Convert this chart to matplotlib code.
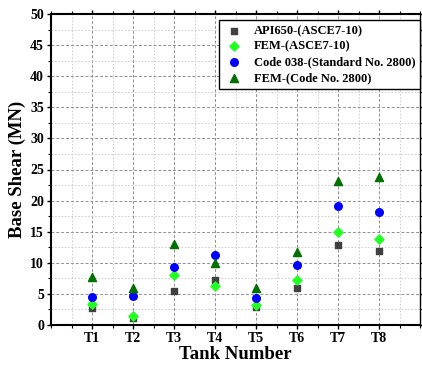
import matplotlib.pyplot as plt
from matplotlib.ticker import MultipleLocator

tanks = ["T1", "T2", "T3", "T4", "T5", "T6", "T7", "T8"]
api650 = [2.7, 1.1, 5.4, 7.2, 2.85, 5.95, 12.9, 11.95]
fem_asce = [3.3, 1.4, 8.0, 6.2, 3.2, 7.3, 14.9, 13.9]
code038 = [4.45, 4.6, 9.4, 11.2, 4.3, 9.65, 19.2, 18.1]
fem_code = [7.7, 6.0, 13.1, 10.0, 5.9, 11.8, 23.15, 23.8]

labels = ["API650-(ASCE7-10)", "FEM-(ASCE7-10)",
          "Code 038-(Standard No. 2800)", "FEM-(Code No. 2800)"]

plt.rcParams["font.family"] = ["Liberation Serif", "DejaVu Serif"]
plt.rcParams["font.weight"] = "bold"

fig = plt.figure(figsize=(4.22, 3.67), dpi=100)
ax = fig.add_axes([51 / 422, 1 - 325 / 367, 369 / 422, 311 / 367])

x = list(range(1, len(tanks) + 1))
ax.scatter(x, api650, marker="s", s=22, color="#404040", label=labels[0], zorder=3)
ax.scatter(x, fem_asce, marker="D", s=22, color="#22ff22", label=labels[1], zorder=3)
ax.scatter(x, code038, marker="o", s=30, color="#0000ff", label=labels[2], zorder=3)
ax.scatter(x, fem_code, marker="^", s=34, color="#007000", label=labels[3], zorder=3)

ax.set_xlim(0, 9)
ax.set_ylim(0, 50)
ax.set_xticks(x)
ax.set_xticklabels(tanks)
ax.xaxis.set_minor_locator(MultipleLocator(0.5))
ax.yaxis.set_major_locator(MultipleLocator(5))
ax.yaxis.set_minor_locator(MultipleLocator(2.5))

ax.grid(which="major", color="#909090", linestyle=(0, (3, 2)), linewidth=0.7)
ax.grid(which="minor", color="#c8c8c8", linestyle=(0, (2, 2)), linewidth=0.6)
ax.set_axisbelow(True)

ax.tick_params(axis="both", which="both", labelsize=10, pad=2)
ax.tick_params(axis="both", which="major", length=3, width=1)
ax.tick_params(axis="both", which="minor", length=2, width=0.8)
ax.tick_params(top=True, right=True, which="both", direction="in")
ax.tick_params(left=True, bottom=True, which="both", direction="out")

for side in ["left", "bottom", "top"]:
    ax.spines[side].set_linewidth(1.5)
ax.spines["right"].set_linewidth(1.0)

ax.set_xlabel("Tank Number", fontsize=13.5, fontweight="bold", labelpad=1)
ax.set_ylabel("Base Shear (MN)", fontsize=13.5, fontweight="bold", labelpad=3)

leg = ax.legend(loc="upper right", bbox_to_anchor=(1.0, 1 - 6 / 311),
                fontsize=9.0, frameon=True, fancybox=False,
                borderaxespad=0, handlelength=1.6, handletextpad=0.8,
                labelspacing=0.3, borderpad=0.4, scatterpoints=1)
leg.get_frame().set_edgecolor("black")
leg.get_frame().set_linewidth(1.0)
leg.get_frame().set_alpha(1)

fig.savefig("out.png", dpi=100)
